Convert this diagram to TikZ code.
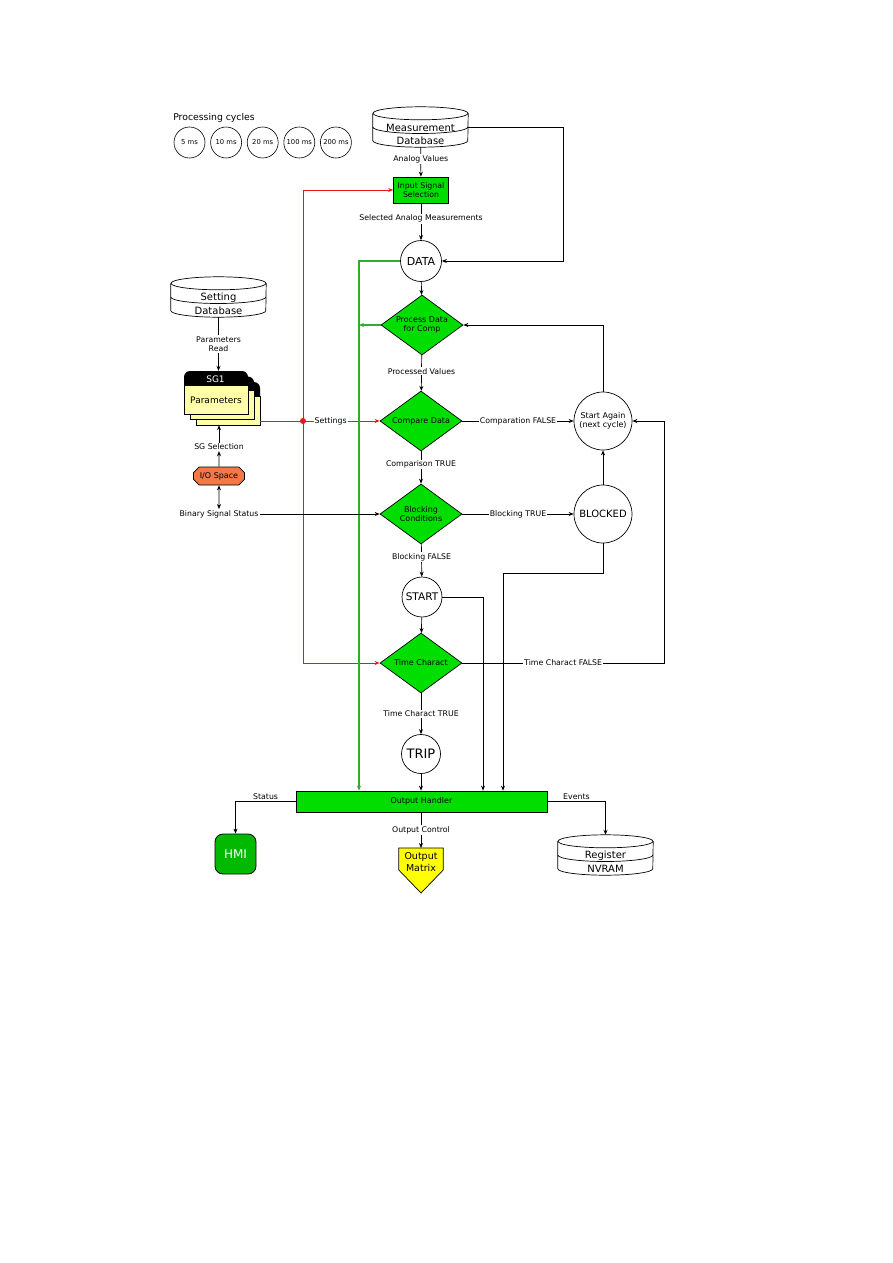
\documentclass[tikz,border=0pt]{standalone}
\usepackage{fontspec}
\setmainfont{DejaVu Sans}
\usetikzlibrary{shapes.geometric,shapes.misc,arrows.meta,positioning,backgrounds}

\definecolor{boxgreen}{RGB}{0,222,0}
\definecolor{hmigreen}{RGB}{0,185,0}
\definecolor{cardyellow}{RGB}{255,255,170}
\definecolor{matrixyellow}{RGB}{255,255,0}
\definecolor{iorange}{RGB}{242,120,72}
\definecolor{busred}{RGB}{232,24,24}
\definecolor{busgreen}{RGB}{45,175,45}

% database drum: #1 name, #2 position, #3 upper text, #4 lower text
\newcommand{\dbdrum}[4]{%
  \node[minimum width=95, minimum height=40, inner sep=0pt] (#1) at #2 {};
  \draw[line width=0.7pt] ([yshift=-6.5pt]#1.north west) -- ([yshift=6.5pt]#1.south west)
    arc[start angle=180, end angle=360, x radius=47.5pt, y radius=6.5pt]
    -- ([yshift=-6.5pt]#1.north east);
  \draw[line width=0.7pt] ([yshift=-6.5pt]#1.north) ellipse[x radius=47.5pt, y radius=6.5pt];
  \draw[line width=0.7pt] (#1.west) arc[start angle=180, end angle=360, x radius=47.5pt, y radius=6.5pt];
  \node[dbtxt] at ([yshift=-1pt]#1.center) {#3};
  \node[dbtxt] at ([yshift=-14pt]#1.center) {#4};
}

\begin{document}
\begin{tikzpicture}[
  x=1pt, y=1pt,
  >={Stealth[length=5pt,width=4pt]},
  lbl/.style={font=\fontsize{7.8}{9.5}\selectfont, inner sep=1pt},
  lblw/.style={lbl, fill=white, align=center},
  dbtxt/.style={font=\fontsize{10}{12}\selectfont, inner sep=0pt},
  arr/.style={->, line width=0.7pt},
  redarr/.style={->, busred, line width=0.8pt},
  greenarr/.style={->, busgreen, line width=1.1pt},
  decide/.style={diamond, draw, fill=boxgreen, line width=0.7pt, aspect=1.37,
    minimum width=82, minimum height=60, inner sep=0pt, align=center,
    font=\fontsize{8}{9.5}\selectfont},
  state/.style={circle, draw, line width=0.7pt, fill=white, inner sep=0pt, align=center},
  cyc/.style={circle, draw, line width=0.6pt, minimum size=31, inner sep=0pt,
    font=\fontsize{6.8}{8}\selectfont},
  gbox/.style={rectangle, draw, fill=boxgreen, line width=0.7pt, inner sep=1pt, align=center},
]
\useasboundingbox (0,0) rectangle (893,-1263);

% ===== Processing cycles =====================================================
\node[font=\fontsize{9.3}{11}\selectfont] (cyctitle) at (214,-118) {Processing cycles};
\foreach \t [count=\i] in {5,10,20,100,200}
  \node[cyc] (cyc\i) at ({189.5+36.6*(\i-1)},-142.5) {\t{} ms};

% ===== Databases =============================================================
\dbdrum{measdb}{(420.5,-127)}{Measurement}{Database}
\dbdrum{setdb}{(218.5,-297)}{Setting}{Database}
\dbdrum{regdb}{(605.5,-855)}{Register}{NVRAM}

% ===== Main chain ============================================================
\node[gbox, minimum width=55, minimum height=26, font=\fontsize{7.8}{9.5}\selectfont]
  (insel) at (421,-190) {Input Signal\\Selection};
\node[state, minimum size=41, font=\fontsize{11}{13}\selectfont] (data) at (421,-261) {DATA};
\node[decide] (procdata) at (422,-325) {Process Data\\for Comp};
\node[decide] (compare) at (421,-421) {Compare Data};
\node[decide] (blocking) at (421,-514) {Blocking\\Conditions};
\node[state, minimum size=40, font=\fontsize{10.5}{12}\selectfont] (start) at (422,-597) {START};
\node[decide] (timech) at (421,-663) {Time Charact};
\node[state, minimum size=39, font=\fontsize{13}{15}\selectfont] (trip) at (421,-754) {TRIP};

\node[state, minimum size=58, font=\fontsize{8}{9.5}\selectfont] (startagain) at (603,-421) {Start Again\\(next cycle)};
\node[state, minimum size=58, font=\fontsize{10}{12}\selectfont] (blocked) at (603,-514) {BLOCKED};

\node[gbox, minimum width=251, minimum height=21, font=\fontsize{8}{9.5}\selectfont]
  (outh) at (421.5,-801.5) {Output Handler};

% ===== Outputs ===============================================================
\node[rectangle, rounded corners=8pt, draw, line width=0.8pt, fill=hmigreen, text=white,
  minimum width=41, minimum height=40, font=\fontsize{12}{14}\selectfont] (hmi) at (235.5,-854) {HMI};
\node[anchor=north, minimum width=44, minimum height=28, inner sep=0pt, align=center,
  font=\fontsize{9.5}{11.5}\selectfont] (outmx) at (421,-848) {Output\\Matrix};
\begin{pgfonlayer}{background}
  \draw[line width=0.7pt, fill=matrixyellow] (outmx.north west) -- (outmx.north east)
    -- ++(0,-22) -- ([yshift=-45pt]outmx.north) -- ([yshift=-22pt]outmx.north west) -- cycle;
\end{pgfonlayer}

% ===== Setting group stack ===================================================
\node[minimum width=76, minimum height=54, inner sep=0pt] (sgstack) at (222,-398) {};
\foreach \k in {2,1,0} {
  \fill[rounded corners=6pt] ({184+6*\k},{-371-5.5*\k}) rectangle ++(64,-24);
  \draw[line width=0.7pt, fill=cardyellow] ({184+6*\k},{-385-5.5*\k}) rectangle ++(64,-29);
}
\node[text=white, font=\fontsize{9}{11}\selectfont] (sgname) at (215.5,-379) {SG1};
\node[font=\fontsize{9}{11}\selectfont] (sgparam) at (216,-400) {Parameters};

\node[lbl] (sgsel) at (219,-447) {SG Selection};
\node[chamfered rectangle, chamfered rectangle xsep=2pt, draw, line width=0.7pt, fill=iorange,
  minimum width=51, minimum height=18, inner sep=1pt, font=\fontsize{8}{9.5}\selectfont]
  (io) at (219,-476) {I/O Space};
\node[lbl] (binsig) at (219,-514) {Binary Signal Status};

% ===== Connectors ============================================================
\draw[arr] (measdb) -- node[lblw, pos=0.4] {Analog Values} (insel);
\draw[arr] (insel) -- node[lblw, pos=0.42] {Selected Analog Measurements} (data);
\draw[arr] (measdb.east) -- ++(95.5,0) |- (data);
\draw[arr] (data) -- (procdata);
\draw[arr] (procdata) -- node[lblw, pos=0.45] {Processed Values} (compare);
\draw[arr] (compare) -- node[lblw, pos=0.4] {Comparison TRUE} (blocking);
\draw[arr] (blocking) -- node[lblw, pos=0.4] {Blocking FALSE} (start);
\draw[arr] (start) -- (timech);
\draw[arr] (timech) -- node[lblw, pos=0.5] {Time Charact TRUE} (trip);
\draw[arr] (trip) -- (trip |- outh.north);

\draw[arr] (compare) -- node[lblw] {Comparation FALSE} (startagain);
\draw[arr] (blocking) -- node[lblw] {Blocking TRUE} (blocked);
\draw[arr] (blocked) -- (startagain);
\draw[arr] (startagain) |- (procdata);
\coordinate (loopback) at (664,-663);
\draw[arr] (timech.east) -- node[lblw] {Time Charact FALSE} (loopback) |- (startagain);
\draw[arr] (blocked.south) -- ++(0,-30) -| ([xshift=81.5]outh.north);
\draw[arr] (start) -| ([xshift=61.5]outh.north);

% settings bus (red)
\coordinate (bus) at (303,-421);
\draw[busred, line width=0.8pt] (sgstack.east |- bus) -- (bus);
\draw[redarr] (bus) -- node[lblw, text=black, pos=0.36] {Settings} (compare);
\draw[redarr] (bus) |- (insel);
\draw[redarr] (bus) |- (timech);
\fill[busred] (bus) circle (3);

% data bus (green)
\coordinate (gbus) at (359,-261);
\draw[greenarr] (data.west) -- (gbus) -- (gbus |- outh.north);
\draw[greenarr] (procdata) -- (procdata -| gbus);

% left column
\draw[arr] (setdb.south) -- node[lblw] {Parameters\\Read} (setdb.south |- sgstack.north);
\draw[arr] (io) -- (sgsel);
\draw[arr] (sgsel) -- (sgsel |- sgstack.south);
\draw[<->, line width=0.7pt] (io) -- (binsig);
\draw[arr] (binsig) -- (blocking);

% outputs
\draw[arr] (outh.west) -- node[lbl, above=1pt] {Status} (outh.west -| hmi.north) -- (hmi.north);
\draw[arr] (outh.south -| outmx.north) -- node[lblw] {Output Control} (outmx.north);
\draw[arr] (outh.east) -- node[lbl, above=1pt] {Events} (outh.east -| regdb.north) -- (regdb.north);

\end{tikzpicture}
\end{document}
